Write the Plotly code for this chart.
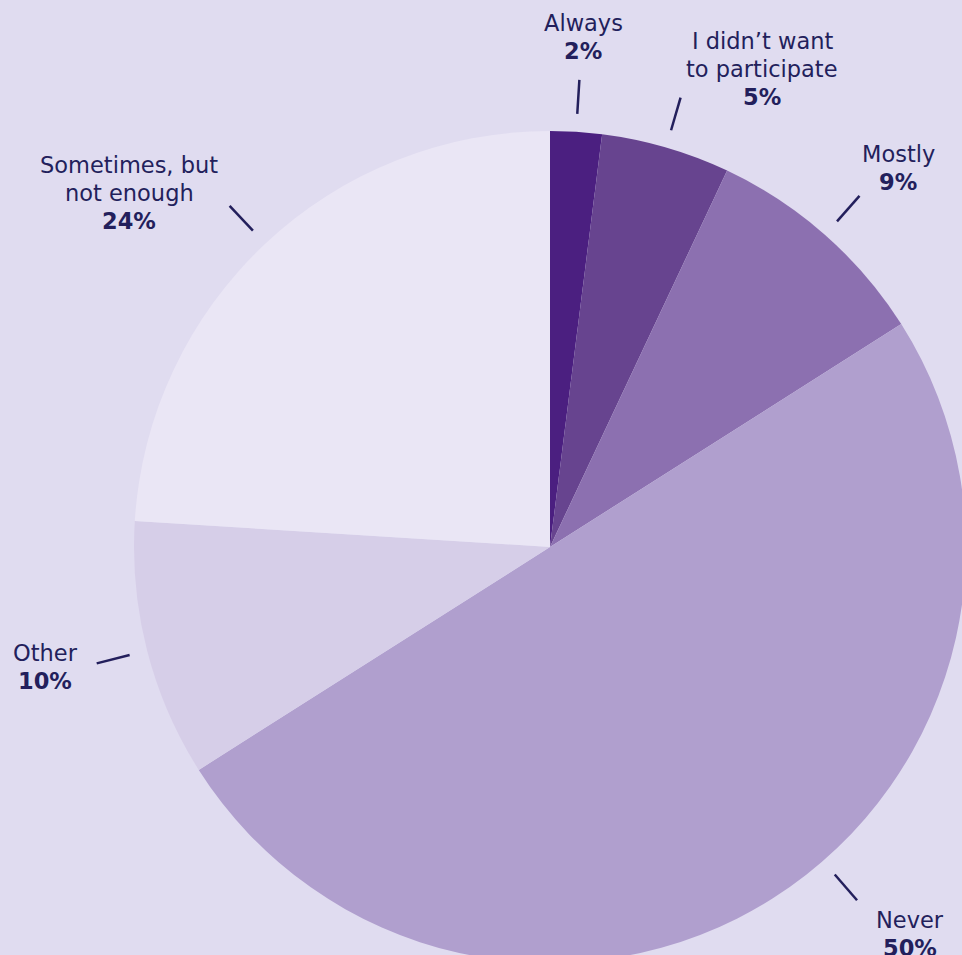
import math
import plotly.graph_objects as go

# ---- data ----
categories = ["Always", "I didn’t want<br>to participate", "Mostly", "Never", "Other", "Sometimes, but<br>not enough"]
values = [2, 5, 9, 50, 10, 24]
pct_labels = ["2%", "5%", "9%", "50%", "10%", "24%"]

# ---- styles ----
colors = ["#4b1f80", "#67448f", "#8c70b0", "#b09fce", "#d6cee8", "#eae6f5"]
BG = "#e0dcf0"
TXT = "#231f5c"
FONT = "DejaVu Sans"
FSIZE = 22.5
W, H = 1000, 1000
CX, CY, R = 550, 547, 416
R_IN, R_OUT = 434, 468
# angle override (deg, clockwise from top) where the leader is not at slice middle
angle_override = {3: 139.0}
label_pos = {
    0: (583, 23),
    1: (762, 41),
    2: (898, 154),
    3: (910, 920),
    4: (45, 653),
    5: (129, 165),
}
LINE_GAP = 28

fig = go.Figure()
fig.add_trace(go.Pie(
    labels=[c.replace("<br>", " ") for c in categories],
    values=values,
    sort=False,
    direction="clockwise",
    rotation=0,
    marker=dict(colors=colors, line=dict(width=0)),
    textinfo="none",
    hoverinfo="skip",
    showlegend=False,
    domain=dict(x=[(CX - R) / W, (CX + R) / W], y=[1 - (CY + R) / H, 1 - (CY - R) / H]),
))

total = sum(values)
cum = 0
shapes = []
annotations = []
for i, v in enumerate(values):
    mid = (cum + v / 2) / total * 360
    cum += v
    ang = math.radians(angle_override.get(i, mid))
    x0 = CX + R_IN * math.sin(ang)
    y0 = CY - R_IN * math.cos(ang)
    x1 = CX + R_OUT * math.sin(ang)
    y1 = CY - R_OUT * math.cos(ang)
    shapes.append(dict(type="line", xref="x", yref="y", x0=x0, y0=y0, x1=x1, y1=y1,
                       line=dict(color=TXT, width=2.5)))
    lx, ly = label_pos[i]
    lines = categories[i].split("<br>")
    for j, t in enumerate(lines):
        annotations.append(dict(x=lx, y=ly + j * LINE_GAP, xref="x", yref="y", text=t,
                                showarrow=False, xanchor="center", yanchor="middle",
                                font=dict(family=FONT, size=FSIZE, color=TXT)))
    annotations.append(dict(x=lx, y=ly + len(lines) * LINE_GAP, xref="x", yref="y",
                            text="<b>" + pct_labels[i] + "</b>",
                            showarrow=False, xanchor="center", yanchor="middle",
                            font=dict(family=FONT, size=FSIZE, color=TXT)))

fig.update_layout(
    width=W, height=H, autosize=False,
    margin=dict(l=0, r=0, t=0, b=0),
    paper_bgcolor=BG, plot_bgcolor="rgba(0,0,0,0)",
    xaxis=dict(range=[0, W], visible=False, domain=[0, 1], fixedrange=True),
    yaxis=dict(range=[H, 0], visible=False, domain=[0, 1], fixedrange=True),
    shapes=shapes,
    annotations=annotations,
)

fig.write_html(
    "out.html",
    config={"displayModeBar": False, "staticPlot": True},
    post_script="document.body.style.margin='0';document.body.style.overflow='hidden';document.documentElement.style.overflow='hidden';",
)
